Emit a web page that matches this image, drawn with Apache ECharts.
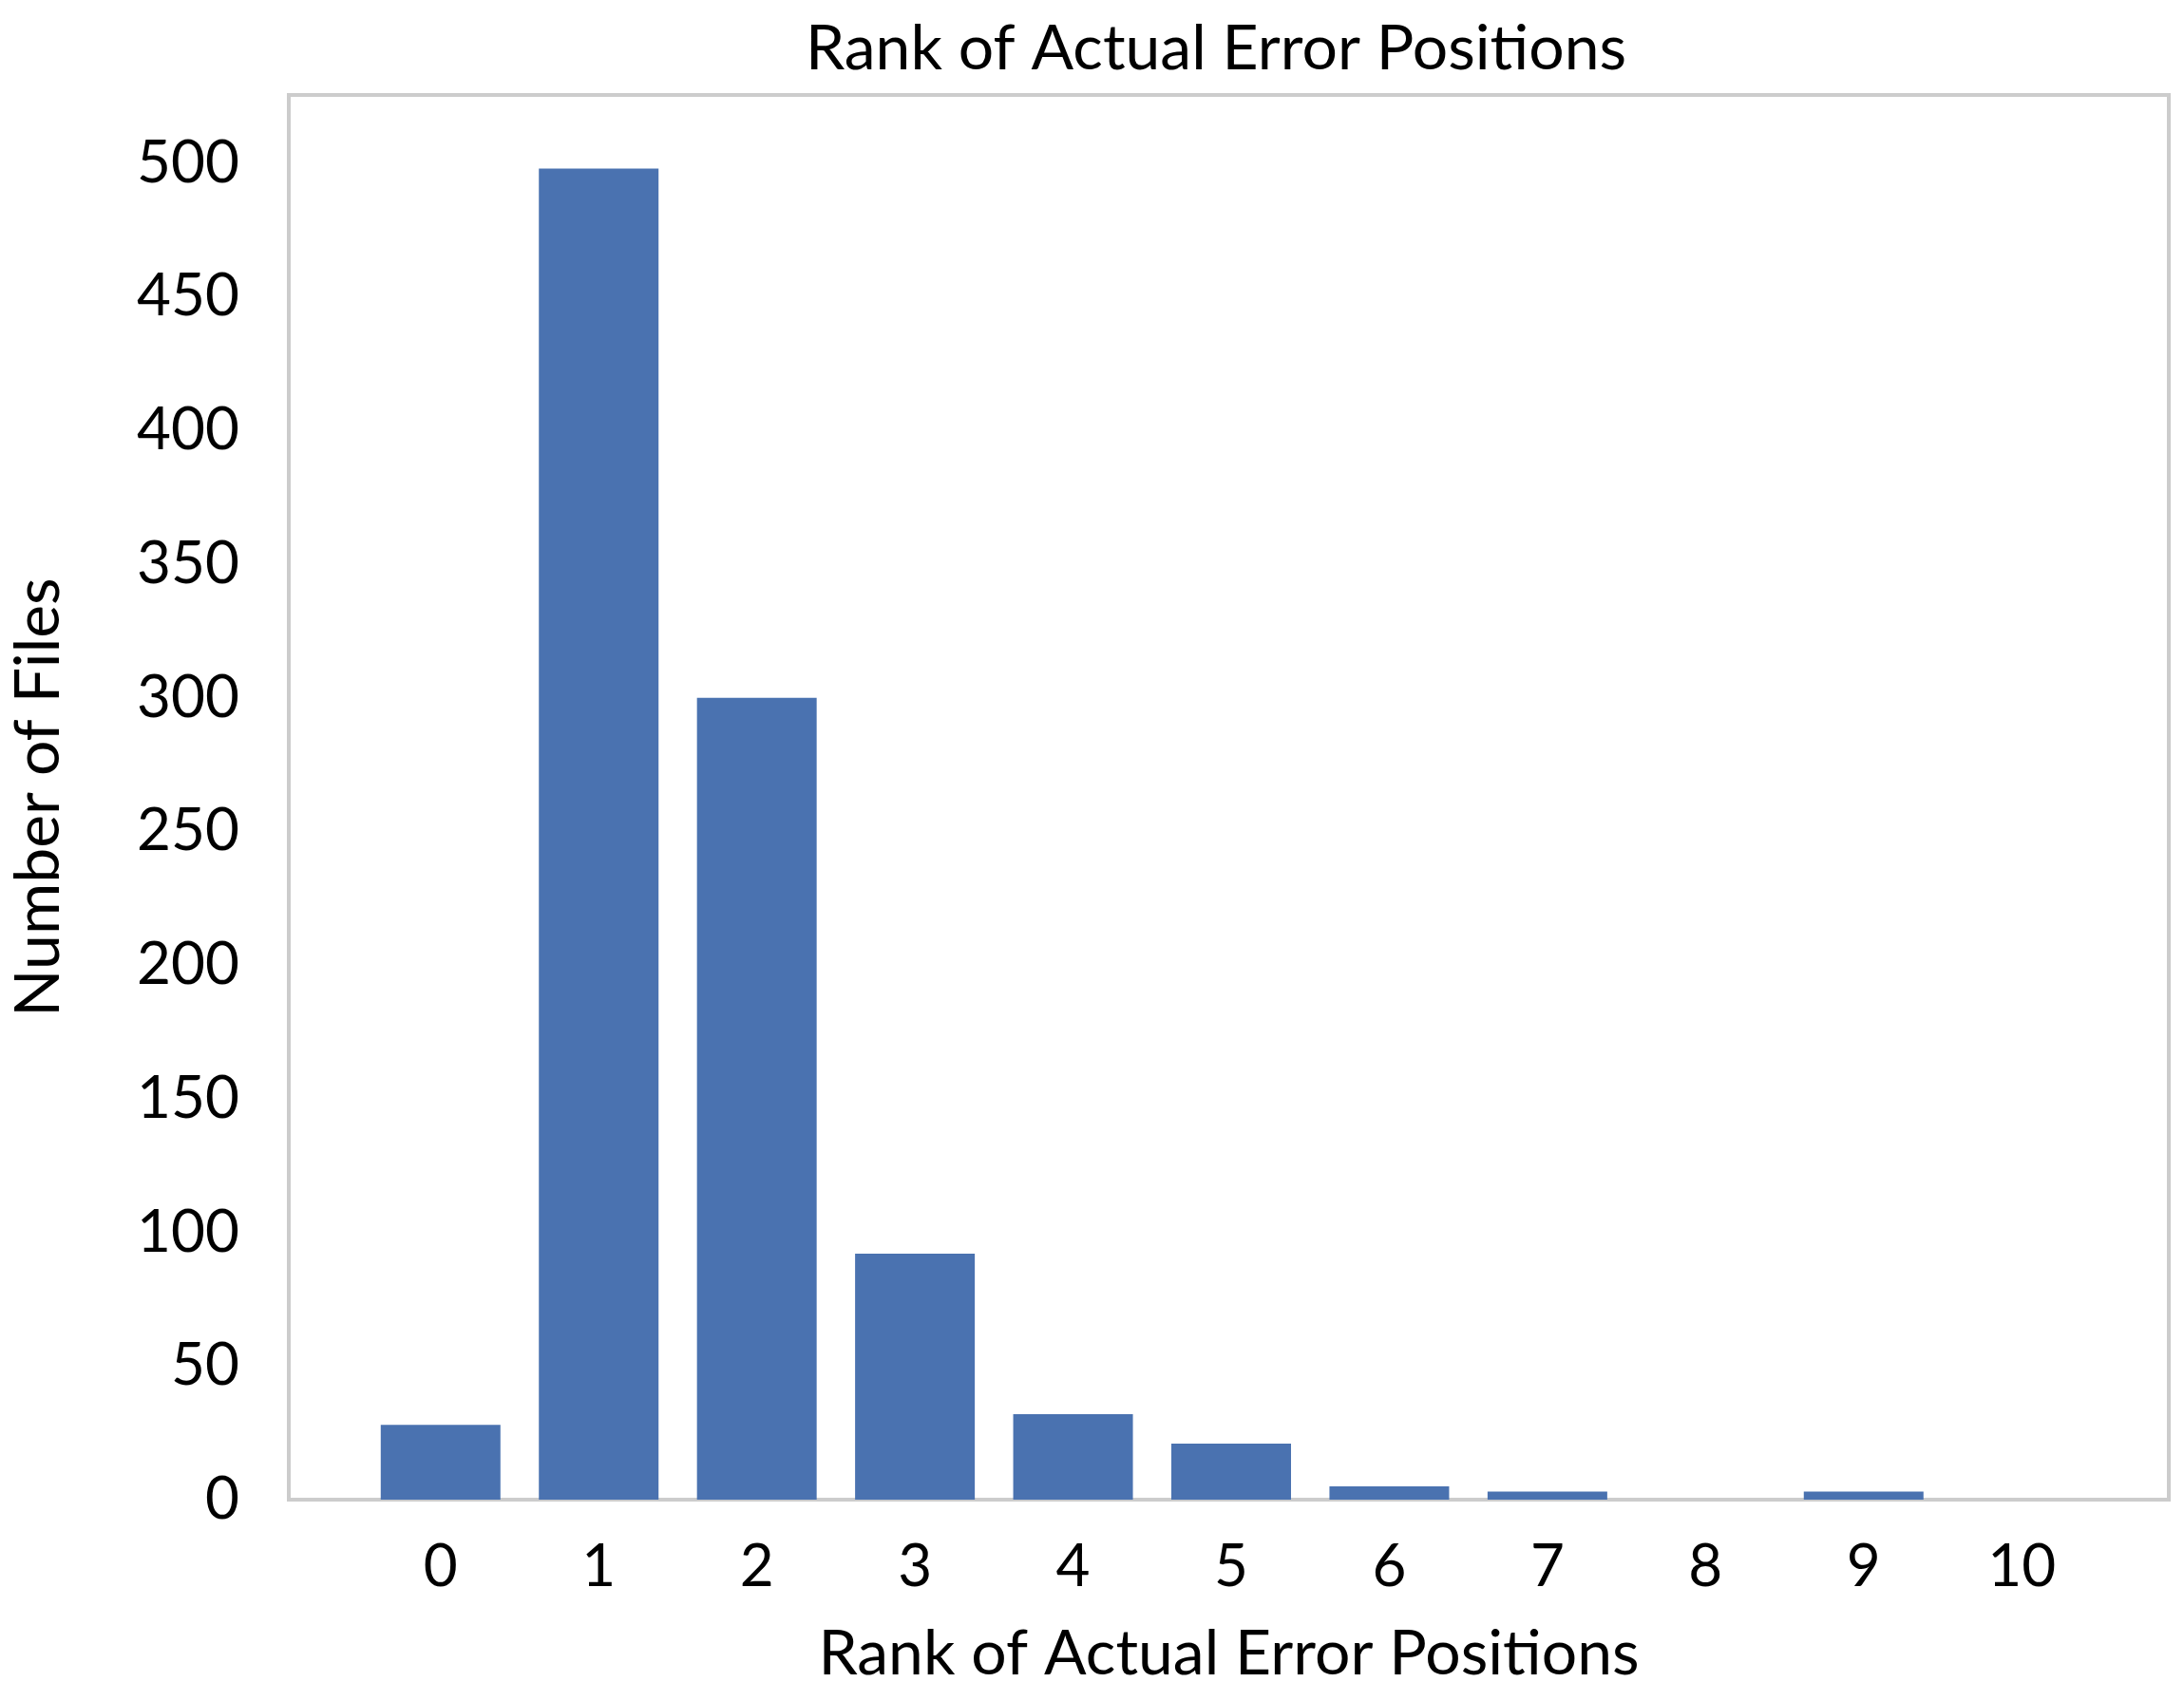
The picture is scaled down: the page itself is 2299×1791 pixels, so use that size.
<!DOCTYPE html>
<html>
<head>
<meta charset="utf-8">
<script src="https://cdn.jsdelivr.net/npm/echarts@6/dist/echarts.min.js"></script>
<style>html,body{margin:0;padding:0;background:#fff}#chart{width:2299px;height:1791px}</style>
</head>
<body>
<div id="chart"></div>
<script>
// ranks and counts
const ranks = [0, 1, 2, 3, 4, 5, 6, 7, 8, 9, 10];
const counts = [28, 498, 300, 92, 32, 21, 5, 3, 0, 3, 0];
const yTicks = [0, 50, 100, 150, 200, 250, 300, 350, 400, 450, 500];

const chart = echarts.init(document.getElementById('chart'));
const font = 'Lato, "Noto Sans", sans-serif';

chart.setOption({
  animation: false,
  title: {
    text: 'Rank of Actual Error Positions',
    left: 1275, top: 14, textAlign: 'center',
    textStyle: { fontFamily: font, fontSize: 66, fontWeight: 'normal', color: '#000' }
  },
  grid: {
    left: 301, right: 16, top: 100, bottom: 212,
    show: true, borderColor: '#cccccc', borderWidth: 4
  },
  xAxis: {
    type: 'value', min: -0.96, max: 10.93,
    name: 'Rank of Actual Error Positions', nameLocation: 'middle', nameGap: 130,
    nameTextStyle: { fontFamily: font, fontSize: 66, color: '#000' },
    axisLine: { show: false }, axisTick: { show: false }, splitLine: { show: false },
    axisLabel: { customValues: ranks, fontFamily: font, fontSize: 62, color: '#000', margin: 40 }
  },
  yAxis: {
    type: 'value', min: 0, max: 525.5,
    name: 'Number of Files', nameLocation: 'middle', nameGap: 230,
    nameTextStyle: { fontFamily: font, fontSize: 66, color: '#000' },
    axisLine: { show: false }, axisTick: { show: false }, splitLine: { show: false },
    axisLabel: { customValues: yTicks, fontFamily: font, fontSize: 62, color: '#000', margin: 52 }
  },
  series: [{
    type: 'bar',
    data: ranks.map((r, i) => [r, counts[i]]),
    barWidth: 126,
    itemStyle: { color: '#4a72b0' }
  }]
});
</script>
</body>
</html>
